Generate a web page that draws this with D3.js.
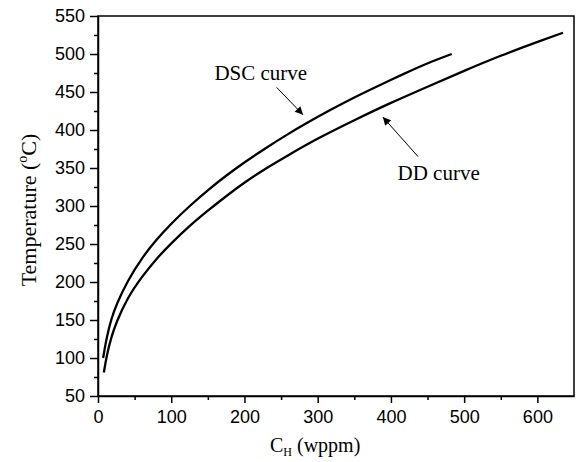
<!DOCTYPE html>
<head>
<meta charset="utf-8">
<style>
body { margin: 0; background: #fff; }
svg { font-family: "Liberation Serif", "Times New Roman", serif; }
.axis text { font-size: 18px; fill: #000; }
.axis path, .axis line { stroke: #000; stroke-width: 1.5px; }
.curve { fill: none; stroke: #000; stroke-width: 2.3px; }
</style>
</head>
<body>
<svg width="580" height="462"></svg>
<script src="https://cdn.jsdelivr.net/npm/d3@7"></script>
<script>
// values: [C_H in wppm, temperature in deg C]
var dscCurve = [[7,100],[12,128],[18,151],[25,170],[40,201],[60,232],[80,256],[100,277],
  [125,300],[150,321],[175,340],[200,357.5],[230,377],[260,395],[280,406.5],[320,428],
  [350,443],[380,457],[420,475],[450,488],[483,500]];
var ddCurve = [[8,81],[12,104],[18,127],[25,147],[40,179],[60,207],[80,231],[100,251],
  [125,274],[150,294],[175,313],[200,331],[230,350],[260,367],[300,389],[350,413],
  [400,436],[450,457],[500,478],[550,498],[600,516],[635,528]];
var xMajor = [0,100,200,300,400,500,600];
var xMinor = [50,150,250,350,450,550];
var yMajor = [50,100,150,200,250,300,350,400,450,500,550];
var yMinor = [75,125,175,225,275,325,375,425,475,525];
// annotations: label, text position, arrow tail, arrow head (data units)
var notes = [
  {label: "DSC curve", tx: 159, ty: 466, x1: 244, y1: 456, x2: 280, y2: 420},
  {label: "DD curve", tx: 409, ty: 334, x1: 437, y1: 365, x2: 389, y2: 417}
];

var svg = d3.select("svg");
var margin = {left: 98, right: 6, top: 16, bottom: 66};
var width = 580 - margin.left - margin.right,
    height = 462 - margin.top - margin.bottom;

var x = d3.scaleLinear().domain([0, 650]).range([margin.left, margin.left + width]);
var y = d3.scaleLinear().domain([50, 550]).range([margin.top + height, margin.top]);

svg.append("defs").append("marker")
  .attr("id", "arr")
  .attr("viewBox", "0 0 10 10")
  .attr("refX", 10).attr("refY", 5)
  .attr("markerWidth", 10).attr("markerHeight", 8)
  .attr("markerUnits", "userSpaceOnUse")
  .attr("orient", "auto")
  .append("path").attr("d", "M0,0 L10,5 L0,10 z").attr("fill", "#000");

// frame
svg.append("rect")
  .attr("x", x(0)).attr("y", y(550))
  .attr("width", x(650) - x(0)).attr("height", y(50) - y(550))
  .attr("fill", "none").attr("stroke", "#000").attr("stroke-width", 1.5);

// axes
var gx = svg.append("g").attr("class", "axis")
  .attr("transform", "translate(0," + y(50) + ")")
  .call(d3.axisBottom(x).tickValues(xMajor).tickSize(7).tickPadding(4).tickSizeOuter(0));
gx.selectAll("text").attr("dy", "0.9em");
svg.append("g").attr("class", "axis")
  .attr("transform", "translate(0," + y(50) + ")")
  .call(d3.axisBottom(x).tickValues(xMinor).tickSize(4).tickFormat("").tickSizeOuter(0))
  .select(".domain").remove();

svg.append("g").attr("class", "axis")
  .attr("transform", "translate(" + x(0) + ",0)")
  .call(d3.axisLeft(y).tickValues(yMajor).tickSize(8).tickPadding(5).tickSizeOuter(0));
svg.append("g").attr("class", "axis")
  .attr("transform", "translate(" + x(0) + ",0)")
  .call(d3.axisLeft(y).tickValues(yMinor).tickSize(4).tickFormat("").tickSizeOuter(0))
  .select(".domain").remove();

// curves
var line = d3.line()
  .x(function(d){ return x(d[0]); })
  .y(function(d){ return y(d[1]); })
  .curve(d3.curveBasis);

svg.append("path").datum(dscCurve).attr("class", "curve").attr("d", line);
svg.append("path").datum(ddCurve).attr("class", "curve").attr("d", line);

// annotations
notes.forEach(function(n){
  svg.append("text")
    .attr("x", x(n.tx)).attr("y", y(n.ty))
    .attr("font-size", 21).text(n.label);
  svg.append("line")
    .attr("x1", x(n.x1)).attr("y1", y(n.y1))
    .attr("x2", x(n.x2)).attr("y2", y(n.y2))
    .attr("stroke", "#000").attr("stroke-width", 1)
    .attr("marker-end", "url(#arr)");
});

// axis titles
var xt = svg.append("text")
  .attr("x", 270).attr("y", 452)
  .attr("font-size", 20);
xt.append("tspan").text("C");
xt.append("tspan").attr("font-size", 12).attr("dy", 4).text("H");
xt.append("tspan").attr("dy", -4).text(" (wppm)");

var yt = svg.append("text")
  .attr("transform", "translate(36," + 210 + ") rotate(-90)")
  .attr("text-anchor", "middle")
  .attr("font-size", 22);
yt.append("tspan").text("Temperature (");
yt.append("tspan").attr("font-size", 14).attr("dy", -9).text("o");
yt.append("tspan").attr("dy", 9).text("C)");
</script>
</body>
